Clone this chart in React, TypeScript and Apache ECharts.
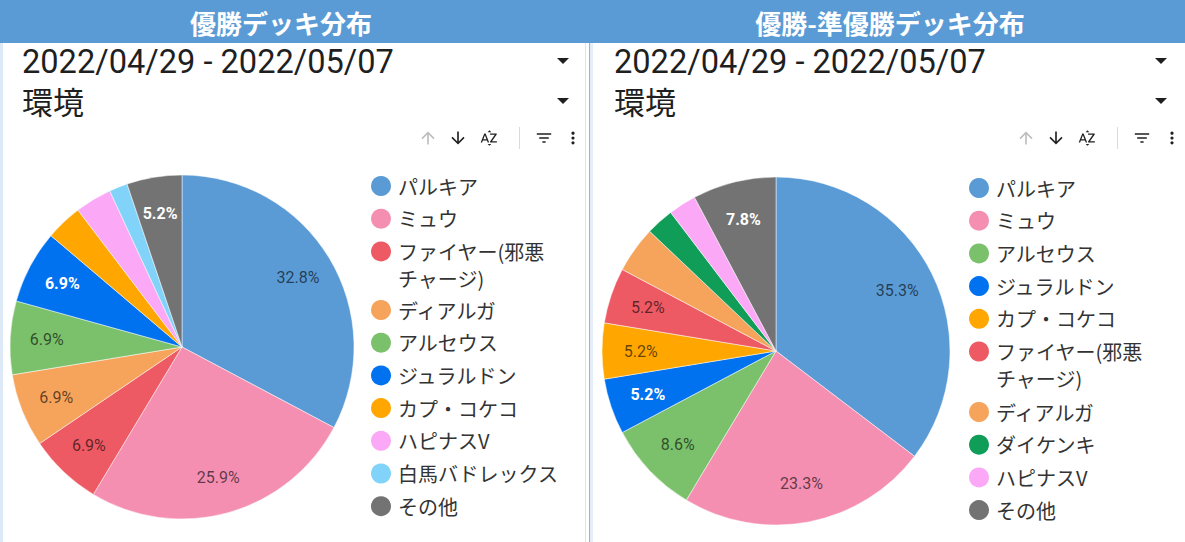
import React, { useEffect, useRef } from "react";
import * as echarts from "echarts";

// ---------- data ----------
const leftTitle = "優勝デッキ分布";
const rightTitle = "優勝-準優勝デッキ分布";
const dateRange = "2022/04/29 - 2022/05/07";
const filterLabel = "環境";

const leftNames = [
  "パルキア",
  "ミュウ",
  "ファイヤー(邪悪チャージ)",
  "ディアルガ",
  "アルセウス",
  "ジュラルドン",
  "カプ・コケコ",
  "ハピナスV",
  "白馬バドレックス",
  "その他",
];
const leftValues = [19, 15, 4, 4, 4, 4, 2, 2, 1, 3];

const rightNames = [
  "パルキア",
  "ミュウ",
  "アルセウス",
  "ジュラルドン",
  "カプ・コケコ",
  "ファイヤー(邪悪チャージ)",
  "ディアルガ",
  "ダイケンキ",
  "ハピナスV",
  "その他",
];
const rightValues = [41, 27, 10, 6, 6, 6, 5, 3, 3, 9];

const deckColors: Record<string, string> = {
  パルキア: "#5b9bd5",
  ミュウ: "#f48fb1",
  "ファイヤー(邪悪チャージ)": "#ee5a64",
  ディアルガ: "#f6a35b",
  アルセウス: "#7bc16b",
  ジュラルドン: "#0072f0",
  "カプ・コケコ": "#ffa600",
  ハピナスV: "#fba9f6",
  白馬バドレックス: "#81d3f9",
  その他: "#737373",
  ダイケンキ: "#0f9d58",
};
const whiteLabelDecks = ["ジュラルドン", "その他"];
const legendWrap: Record<string, string[]> = {
  "ファイヤー(邪悪チャージ)": ["ファイヤー(邪悪", "チャージ)"],
};

// ---------- icons ----------
const ICONS: Record<string, string> = {
  icUp: "M4 12l1.41 1.41L11 7.83V20h2V7.83l5.58 5.59L20 12l-8-8-8 8z",
  icDown: "M20 12l-1.41-1.41L13 16.17V4h-2v12.17l-5.58-5.59L4 12l8 8 8-8z",
  icAz:
    "M14.94 4.66h-4.72l2.36-2.36zm-4.69 14.71h4.66l-2.33 2.33zM6.1 6.27L1.6 17.73h1.84l.92-2.45h5.11l.92 2.45h1.84L7.74 6.27H6.1zm-1.13 7.37l1.94-5.18 1.94 5.18H4.97zm10.76 2.5h6.12v1.59h-8.53v-1.29l5.92-8.56h-5.88v-1.6h8.3v1.26l-5.93 8.6z",
  icFilter: "M10 18h4v-2h-4v2zM3 6v2h18V6H3zm3 7h12v-2H6v2z",
  icMore:
    "M12 8c1.1 0 2-.9 2-2s-.9-2-2-2-2 .9-2 2 .9 2 2 2zm0 2c-1.1 0-2 .9-2 2s.9 2 2 2 2-.9 2-2-.9-2-2-2zm0 6c-1.1 0-2 .9-2 2s.9 2 2 2 2-.9 2-2-.9-2-2-2z",
};
Object.keys(ICONS).forEach((k) => {
  echarts.graphic.registerShape(k, echarts.graphic.extendPath(ICONS[k], {}) as any);
});

const CJK = '"Noto Sans CJK JP", "Noto Sans", sans-serif';

function icon(type: string, cx: number, cy: number, s: number, fill: string) {
  return { type, x: cx - 12 * s, y: cy - 12 * s, scaleX: s, scaleY: s, style: { fill } };
}

function panelGraphics(p: {
  title: string;
  titleX: number;
  textX: number;
  triX: number;
  ic: number[];
}) {
  const els: any[] = [];
  els.push({
    type: "text",
    x: p.titleX,
    y: 22,
    style: {
      text: p.title,
      fill: "#ffffff",
      font: `bold 26px ${CJK}`,
      align: "center",
      verticalAlign: "middle",
    },
  });
  els.push({
    type: "text",
    x: p.textX,
    y: 62,
    style: {
      text: dateRange,
      fill: "#1f1f1f",
      font: `32.6px Roboto, sans-serif`,
      align: "left",
      verticalAlign: "middle",
    },
  });
  els.push({
    type: "text",
    x: p.textX,
    y: 100,
    style: {
      text: filterLabel,
      fill: "#1f1f1f",
      font: `31px ${CJK}`,
      align: "left",
      verticalAlign: "middle",
    },
  });
  [61, 101].forEach((ty) => {
    els.push({
      type: "polygon",
      shape: { points: [[p.triX - 6, ty - 3], [p.triX + 6, ty - 3], [p.triX, ty + 3]] },
      style: { fill: "#1f1f1f" },
    });
  });
  const cy = 138;
  els.push(icon("icUp", p.ic[0], cy, 0.82, "#bdbdbd"));
  els.push(icon("icDown", p.ic[1], cy, 0.82, "#202020"));
  els.push(icon("icAz", p.ic[2], cy, 0.8, "#202020"));
  els.push({
    type: "line",
    shape: { x1: p.ic[3] + 0.5, y1: 127, x2: p.ic[3] + 0.5, y2: 149 },
    style: { stroke: "#dadada", lineWidth: 1 },
  });
  els.push(icon("icFilter", p.ic[4], cy, 0.8, "#202020"));
  els.push(icon("icMore", p.ic[5], cy, 0.8, "#202020"));
  return els;
}

function pieSeries(names: string[], values: number[], center: number[], R: number, innerFrac: number) {
  const total = values.reduce((a, b) => a + b, 0);
  const base = {
    type: "pie",
    center,
    radius: [0, R],
    startAngle: 90,
    clockwise: true,
    silent: true,
    emphasis: { disabled: true },
    label: { show: false },
    labelLine: { show: false },
    itemStyle: { borderColor: "#ffffff", borderWidth: 0.5 },
    data: names.map((n, i) => ({ name: n, value: values[i], itemStyle: { color: deckColors[n] } })),
  };
  const labels = {
    type: "pie",
    center,
    radius: [R * innerFrac, R],
    startAngle: 90,
    clockwise: true,
    silent: true,
    emphasis: { disabled: true },
    labelLine: { show: false },
    label: {
      show: true,
      position: "inside",
      fontSize: 16,
      fontFamily: "Roboto, sans-serif",
      formatter: (prm: any) => {
        const pct = (prm.value / total) * 100;
        return pct >= 5 ? pct.toFixed(1) + "%" : "";
      },
    },
    data: names.map((n, i) => {
      const w = whiteLabelDecks.includes(n);
      return {
        name: n,
        value: values[i],
        itemStyle: { color: "rgba(0,0,0,0)" },
        label: { color: w ? "#ffffff" : "rgba(0,0,0,0.62)", fontWeight: w ? "bold" : "normal" },
      };
    }),
  };
  return [base, labels];
}

function legendFmt(name: string) {
  const w = legendWrap[name];
  if (w) return `{a|${w[0]}}\n{b|${w[1]}}`;
  return name;
}

function legend(names: string[], left: number, top: number) {
  return {
    orient: "vertical",
    left,
    top,
    padding: 0,
    itemGap: 6.7,
    itemWidth: 24,
    itemHeight: 20,
    icon: "circle",
    selectedMode: false,
    data: names,
    itemStyle: { borderWidth: 0 },
    formatter: legendFmt,
    textStyle: {
      fontSize: 20,
      fontFamily: CJK,
      color: "#333333",
      lineHeight: 26,
      rich: {
        a: { fontSize: 20, fontFamily: CJK, color: "#333333", lineHeight: 26 },
        b: {
          fontSize: 20,
          fontFamily: CJK,
          color: "#333333",
          lineHeight: 0,
          verticalAlign: "top",
          padding: [4, 0, 0, 0],
        },
      },
    },
  };
}

export default function App() {
  const ref = useRef<HTMLDivElement>(null);
  useEffect(() => {
    if (!ref.current) return;
    const chart = echarts.init(ref.current, undefined, { renderer: "svg" });
    const leftSplit = leftNames.indexOf("ファイヤー(邪悪チャージ)") + 1;
    const rightSplit = rightNames.indexOf("ファイヤー(邪悪チャージ)") + 1;
    const graphics: any[] = [
      { type: "rect", shape: { x: 0, y: 0, width: 1185, height: 43 }, style: { fill: "#5b9bd5" } },
      { type: "rect", shape: { x: 0, y: 43, width: 3, height: 499 }, style: { fill: "#dde9f6" } },
      { type: "rect", shape: { x: 585, y: 43, width: 1, height: 499 }, style: { fill: "#e3e3e3" } },
      { type: "rect", shape: { x: 589, y: 43, width: 1.2, height: 499 }, style: { fill: "#8fb6e2" } },
      { type: "rect", shape: { x: 590, y: 43, width: 3, height: 499 }, style: { fill: "#e4eef9" } },
      ...panelGraphics({
        title: leftTitle,
        titleX: 281,
        textX: 22,
        triX: 563,
        ic: [428, 458, 489, 519, 544, 573],
      }),
      ...panelGraphics({
        title: rightTitle,
        titleX: 890,
        textX: 614,
        triX: 1161,
        ic: [1026, 1056, 1087, 1117, 1142, 1172],
      }),
    ];
    chart.setOption({
      animation: false,
      backgroundColor: "#ffffff",
      graphic: { elements: graphics },
      legend: [
        legend(leftNames.slice(0, leftSplit), 371, 173),
        legend(leftNames.slice(leftSplit), 371, 297),
        legend(rightNames.slice(0, rightSplit), 969, 175),
        legend(rightNames.slice(rightSplit), 969, 399),
      ],
      series: [
        ...pieSeries(leftNames, leftValues, [182, 347], 172, 0.54),
        ...pieSeries(rightNames, rightValues, [776, 351], 174, 0.52),
      ],
    });
    return () => chart.dispose();
  }, []);
  return (
    <div
      ref={ref}
      style={{ position: "fixed", left: 0, top: 0, width: 1185, height: 542 }}
    />
  );
}
